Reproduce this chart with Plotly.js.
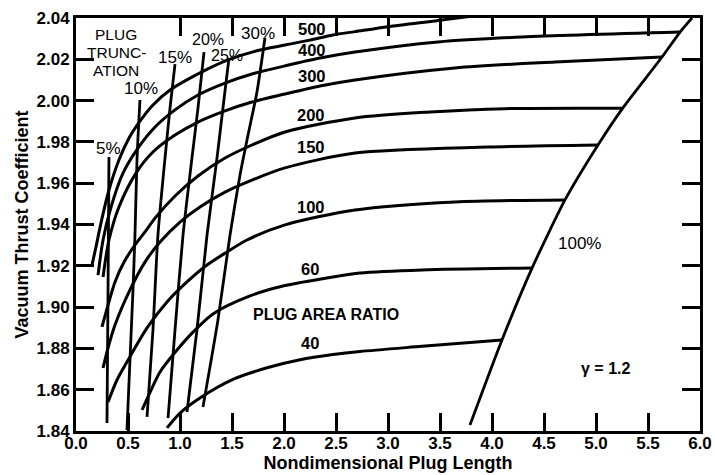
<!DOCTYPE html>
<html><head><meta charset="utf-8">
<script src="https://cdn.plot.ly/plotly-3.0.1.min.js"></script>
<style>html,body{margin:0;padding:0;background:#fff;}#chart{width:715px;height:475px;}</style>
</head><body><div id="chart"></div>
<script>
// ---- tick labels ----
const xTickVals = [0,0.5,1,1.5,2,2.5,3,3.5,4,4.5,5,5.5,6];
const xTickText = ['0.0','0.5','1.0','1.5','2.0','2.5','3.0','3.5','4.0','4.5','5.0','5.5','6.0'];
const xTopTickVals = [1,1.5,2,2.5,3,3.5,4,4.5,5,5.5];
const yTickVals = [1.84,1.86,1.88,1.90,1.92,1.94,1.96,1.98,2.00,2.02,2.04];
const yTickText = ['1.84','1.86','1.88','1.90','1.92','1.94','1.96','1.98','2.00','2.02','2.04'];

// ---- plug area ratio curves ----
const areaRatioLabels = ['500','400','300','200','150','100','60','40'];
const ar500X = [0.154,0.192,0.240,0.317,0.413,0.510,0.596,0.731,0.904,1.192,1.462,1.769,2.010,2.250,2.471,2.683,3.000,3.452,4.077,4.654];
const ar500Y = [1.9204,1.9291,1.9407,1.9567,1.9712,1.9819,1.9887,1.9974,2.0051,2.0134,2.0197,2.0245,2.0269,2.0293,2.0318,2.0334,2.0358,2.0386,2.0425,2.0445];
const ar400X = [0.212,0.260,0.337,0.452,0.596,0.760,0.952,1.173,1.433,1.692,2.010,2.346,2.683,3.481,4.288,5.808];
const ar400Y = [1.9155,1.9325,1.9485,1.9649,1.9770,1.9872,1.9955,2.0027,2.0085,2.0129,2.0168,2.0206,2.0235,2.0284,2.0308,2.0332];
const ar300X = [0.260,0.317,0.413,0.577,0.740,0.952,1.173,1.433,1.692,2.010,2.346,2.683,3.644,4.606,5.635];
const ar300Y = [1.9146,1.9325,1.9485,1.9649,1.9751,1.9833,1.9896,1.9950,1.9993,2.0032,2.0071,2.0100,2.0158,2.0187,2.0211];
const ar200X = [0.250,0.308,0.375,0.462,0.567,0.663,0.760,0.952,1.173,1.433,1.692,2.010,2.683,3.404,4.125,5.250];
const ar200Y = [1.8904,1.9010,1.9122,1.9218,1.9301,1.9364,1.9431,1.9538,1.9635,1.9722,1.9785,1.9848,1.9916,1.9945,1.9961,1.9963];
const ar150X = [0.260,0.308,0.375,0.519,0.663,0.808,1.000,1.192,1.433,1.692,2.010,2.683,3.962,5.019];
const ar150Y = [1.8705,1.8802,1.8913,1.9083,1.9218,1.9315,1.9412,1.9485,1.9557,1.9615,1.9674,1.9746,1.9775,1.9785];
const ar100X = [0.308,0.394,0.490,0.683,0.875,1.067,1.260,1.452,1.644,2.010,2.683,3.644,4.702];
const ar100Y = [1.8540,1.8647,1.8734,1.8899,1.9025,1.9122,1.9204,1.9267,1.9325,1.9398,1.9470,1.9509,1.9519];
const ar60X = [0.635,0.731,0.808,0.971,1.125,1.317,1.673,1.990,2.471,2.731,3.327,4.385];
const ar60Y = [1.8502,1.8608,1.8686,1.8792,1.8879,1.8967,1.9054,1.9102,1.9146,1.9165,1.9180,1.9189];
const ar40X = [0.875,1.000,1.192,1.510,1.837,2.154,2.471,2.731,3.327,4.096];
const ar40Y = [1.8415,1.8487,1.8560,1.8650,1.8706,1.8745,1.8770,1.8785,1.8810,1.8841];

// ---- plug truncation lines ----
const truncLabels = ['5%','10%','15%','20%','25%','30%','100%'];
const t5X = [0.317,0.308,0.298];
const t5Y = [1.9727,1.9083,1.8439];
const t10X = [0.615,0.587,0.567,0.548,0.490];
const t10Y = [2.0003,1.9722,1.9349,1.9083,1.8405];
const t15X = [0.952,0.904,0.856,0.788,0.740,0.683];
const t15Y = [2.0177,1.9964,1.9722,1.9349,1.8889,1.8468];
const t20X = [1.231,1.173,1.115,1.029,0.952,0.885];
const t20Y = [2.0235,1.9964,1.9722,1.9349,1.8889,1.8463];
const t25X = [1.471,1.413,1.356,1.260,1.163,1.067];
const t25Y = [2.0206,1.9964,1.9722,1.9349,1.8889,1.8492];
const t30X = [1.817,1.740,1.654,1.577,1.481,1.365,1.221];
const t30Y = [2.0303,2.0042,1.9833,1.9640,1.9349,1.8938,1.8516];
const t100X = [3.788,4.096,4.385,4.702,5.019,5.250,5.635,5.808,5.923];
const t100Y = [1.8429,1.8841,1.9189,1.9519,1.9785,1.9959,2.0211,2.0332,2.0400];

// ---- text labels ----
const truncTitleLines = ['PLUG','TRUNC-','ATION'];
const areaTitle = 'PLUG AREA RATIO';
const gammaNote = 'γ = 1.2';

const curves = [
  [ar500X, ar500Y],[ar400X, ar400Y],[ar300X, ar300Y],[ar200X, ar200Y],
  [ar150X, ar150Y],[ar100X, ar100Y],[ar60X, ar60Y],[ar40X, ar40Y]
];
const truncs = [[t5X,t5Y],[t10X,t10Y],[t15X,t15Y],[t20X,t20Y],[t25X,t25Y],[t30X,t30Y],[t100X,t100Y]];

const traces = [];
curves.forEach(c => traces.push({x:c[0], y:c[1], type:'scatter', mode:'lines',
  line:{color:'#000', width:3, shape:'spline', smoothing:0.8}, hoverinfo:'skip', showlegend:false}));
truncs.forEach(c => traces.push({x:c[0], y:c[1], type:'scatter', mode:'lines',
  line:{color:'#000', width:2.8, shape:'spline', smoothing:0.6}, hoverinfo:'skip', showlegend:false}));
// empty trace so the top tick axis is created
traces.push({x:[], y:[], xaxis:'x2', yaxis:'y', type:'scatter', mode:'lines', hoverinfo:'skip', showlegend:false});

const FONT = 'Liberation Sans, Arial, Helvetica, sans-serif';
const bold = (s) => ({family:FONT, size:s, color:'#000', weight:'bold'});
const reg = (s) => ({family:FONT, size:s, color:'#000'});

// label anchor positions (data units)
const arLabelX = [2.27,2.27,2.27,2.26,2.26,2.26,2.25,2.25];
const arLabelY = [2.0345,2.0245,2.0119,1.9930,1.9775,1.9485,1.9185,1.8826];
const trLabelX = [0.308,0.625,0.952,1.269,1.455,1.750,4.840];
const trLabelY = [1.9766,2.0061,2.0211,2.0297,2.0218,2.0323,1.9306];
const truncTitleY = [2.0318,2.0235,2.0148];

const annotations = [];
areaRatioLabels.forEach((t,i) => annotations.push({x:arLabelX[i], y:arLabelY[i], text:t, showarrow:false, font:bold(16.5), xanchor:'center', yanchor:'middle'}));
truncLabels.forEach((t,i) => annotations.push({x:trLabelX[i], y:trLabelY[i], text:t, showarrow:false, font:reg(i===3||i===4?16:17), xanchor:'center', yanchor:'middle'}));
truncTitleLines.forEach((t,i) => annotations.push({x:0.385, y:truncTitleY[i], text:t, showarrow:false, font:reg(15.5), xanchor:'center', yanchor:'middle'}));
annotations.push({x:2.40, y:1.8962, text:areaTitle, showarrow:false, font:bold(16), xanchor:'center', yanchor:'middle'});
annotations.push({x:5.09, y:1.8705, text:gammaNote, showarrow:false, font:bold(16), xanchor:'center', yanchor:'middle'});

const layout = {
  width:715, height:475,
  margin:{l:76, r:15, t:18, b:44, pad:0},
  paper_bgcolor:'#fff', plot_bgcolor:'#fff',
  showlegend:false,
  xaxis:{range:[0,6], tickvals:xTickVals, ticktext:xTickText, ticks:'inside', ticklen:18, tickwidth:3, tickcolor:'#000',
    showline:true, linewidth:3, linecolor:'#000', mirror:true, showgrid:false, zeroline:false,
    tickfont:bold(17), automargin:false, ticklabelstandoff:-5,
    title:{text:'Nondimensional Plug Length', font:bold(18), standoff:2}},
  xaxis2:{overlaying:'x', side:'top', anchor:'y', range:[0,6], tickvals:xTopTickVals, ticks:'inside', ticklen:18, tickwidth:3,
    tickcolor:'#000', showticklabels:false, showline:false, showgrid:false, zeroline:false, automargin:false},
  yaxis:{range:[1.84,2.04], tickvals:yTickVals, ticktext:yTickText, ticks:'inside', ticklen:18, tickwidth:3, tickcolor:'#000',
    showline:true, linewidth:3, linecolor:'#000', mirror:'ticks', showgrid:false, zeroline:false,
    tickfont:bold(17), automargin:false,
    title:{text:'Vacuum Thrust Coefficient', font:bold(18), standoff:4}},
  annotations:annotations
};
Plotly.newPlot('chart', traces, layout, {staticPlot:true, displayModeBar:false});
</script></body></html>
